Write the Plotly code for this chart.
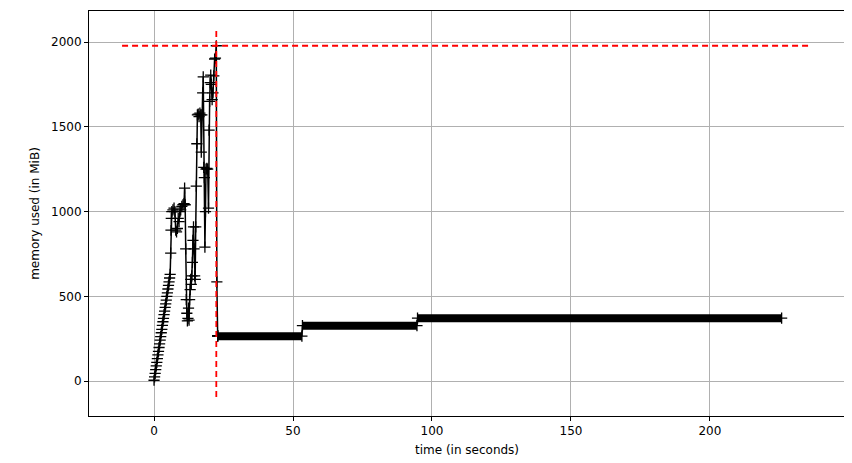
import plotly.graph_objects as go

# Sampled memory usage (mprof style): time in seconds, memory in MiB
time_s = [0.0, 0.2, 0.4, 0.6, 0.8, 1.0, 1.2, 1.4, 1.6, 1.8, 2.0, 2.2, 2.4, 2.6, 2.8,
          3.0, 3.2, 3.4, 3.6, 3.8, 4.0, 4.2, 4.4, 4.6, 4.8, 5.0, 5.2, 5.4, 5.6, 5.8,
          6.0, 6.1, 6.2, 6.4, 6.8, 7.2, 7.5, 7.8, 8.1, 8.4, 8.7, 9.0, 9.3, 9.6, 10.0,
          10.4, 10.8, 11.0, 11.2, 11.4, 11.6, 11.8, 12.0, 12.2, 12.4, 12.6, 12.8, 13.0,
          13.2, 13.4, 13.6, 13.8, 14.0, 14.2, 14.4, 14.6, 14.8, 15.0, 15.2, 15.4, 15.6,
          15.9, 16.2, 16.5, 16.8, 17.0, 17.2, 17.5, 17.7, 17.9, 18.1, 18.3, 18.5, 18.7,
          19.0, 19.3, 19.6, 19.8, 20.0, 20.2, 20.4, 20.6, 20.9, 21.2, 21.5, 21.8, 22.1,
          22.4, 22.6, 22.9]
mem_mib = [5, 25, 45, 68, 90, 110, 132, 155, 175, 198, 220, 242, 262, 285, 305,
           328, 350, 370, 392, 413, 435, 455, 478, 500, 520, 543, 565, 585, 608, 630,
           755, 890, 960, 1000, 1010, 1020, 1000, 890, 880, 900, 960, 940, 1000, 1010, 1030,
           1040, 1047, 1138, 1040, 780, 480, 400, 355, 370, 430, 360, 480, 540,
           600, 570, 620, 700, 830, 910, 780, 620, 600, 910, 1150, 1400, 1570,
           1575, 1560, 1580, 1570, 1350, 1570, 1700, 1795, 1260, 1200, 790, 1000, 1250,
           1255, 1250, 1020, 1480, 1650, 1760, 1805, 1750, 1660, 1700, 1800, 1900, 1905,
           1978, 585, 268]

# Long flat phases (dense samples form a solid band)
plateau_start = [22.9, 53.4, 94.8]
plateau_end = [53.2, 94.6, 225.8]
plateau_level = [265, 327, 371]

# extent of the max-memory guide lines
hline_x = [-11.5, 236.0]
vline_y = [-94, 2077]

cross = dict(symbol="cross-thin", size=8, line=dict(color="black", width=1.3))

fig = go.Figure()

# plateaus drawn as thick bands
for s, e, lvl in zip(plateau_start, plateau_end, plateau_level):
    fig.add_trace(go.Scatter(x=[s, e], y=[lvl, lvl], mode="lines+markers",
                             line=dict(color="black", width=8),
                             marker=cross, showlegend=False))

# transitions between plateaus
trans_x = [plateau_end[0], plateau_start[1], None, plateau_end[1], plateau_start[2]]
trans_y = [plateau_level[0], plateau_level[1], None, plateau_level[1], plateau_level[2]]
fig.add_trace(go.Scatter(x=trans_x, y=trans_y, mode="lines",
                         line=dict(color="black", width=1.5), showlegend=False))

fig.add_trace(go.Scatter(x=time_s + [plateau_start[0]], y=mem_mib + [plateau_level[0]],
                         mode="lines+markers",
                         line=dict(color="black", width=1.5),
                         marker=cross, showlegend=False))

# max memory marker
max_mem = max(mem_mib)
max_t = time_s[mem_mib.index(max_mem)]
fig.add_trace(go.Scatter(x=hline_x, y=[max_mem, max_mem], mode="lines",
                         line=dict(color="red", width=1.8, dash="6px,4px"), showlegend=False))
fig.add_trace(go.Scatter(x=[max_t, max_t], y=vline_y, mode="lines",
                         line=dict(color="red", width=1.8, dash="6px,4px"), showlegend=False))

axis_style = dict(showline=True, linecolor="black", linewidth=1, mirror=True,
                  ticks="outside", ticklen=4, tickcolor="black",
                  showgrid=True, gridcolor="#b0b0b0", gridwidth=1, zeroline=False,
                  tickfont=dict(size=12, color="black"))

fig.update_xaxes(range=[-23.4, 248.6], tickvals=[0, 50, 100, 150, 200],
                 title=dict(text="time (in seconds)", font=dict(size=12, color="black"), standoff=8),
                 **axis_style)
fig.update_yaxes(range=[-206, 2183], tickvals=[0, 500, 1000, 1500, 2000],
                 title=dict(text="memory used (in MiB)", font=dict(size=12, color="black"), standoff=8),
                 **axis_style)

# page body adds 8px, so the figure is 8px smaller than the window
fig.update_layout(width=844, height=455, margin=dict(l=81, r=7, t=3, b=47),
                  plot_bgcolor="white", paper_bgcolor="white",
                  font=dict(family="DejaVu Sans", size=12, color="black"))

fig.write_html("out.html")
